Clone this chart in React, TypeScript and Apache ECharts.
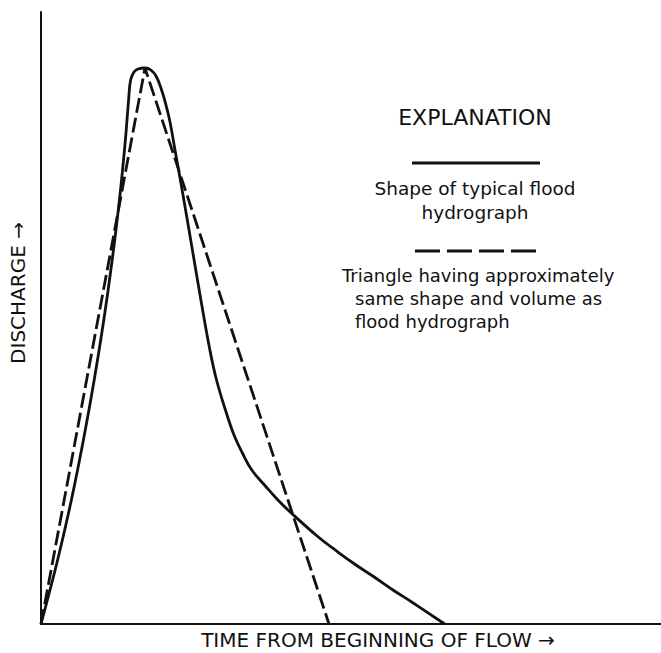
import React, { useEffect, useRef } from "react";
import * as echarts from "echarts";

// Time from beginning of flow (relative units) and discharge (relative units)
const hydrographTime = [
  0, 2.68, 4.9, 6.84, 8.58, 10.13, 11.48, 12.65, 13.61, 14.13, 14.45, 15.0,
  15.65, 16.77, 17.74, 18.55, 19.35, 20.16, 20.81, 21.61, 22.85, 24.42, 25.79,
  27.24, 28.31, 29.9, 31.13, 32.48, 34.0, 36.32, 38.21, 40.19, 44.53, 47.89,
  50.81, 53.74, 56.77, 59.79, 65.11,
];
const hydrographDischarge = [
  0, 10.46, 20.26, 30.07, 39.87, 49.67, 59.48, 69.28, 79.08, 85.62, 88.89,
  90.2, 90.69, 90.85, 90.52, 89.54, 87.58, 84.8, 82.03, 77.45, 70.42, 61.11,
  52.94, 44.77, 39.87, 34.48, 30.88, 27.94, 25.16, 22.39, 20.26, 18.3, 14.38,
  11.76, 9.64, 7.68, 5.56, 3.59, 0,
];
const triangleTime = [0, 16.77, 46.45];
const triangleDischarge = [0, 90.85, 0];

const axisTitleX = "TIME FROM BEGINNING OF FLOW →";
const axisTitleY = "DISCHARGE →";
const legendTitle = "EXPLANATION";
const legendSolidLines = ["Shape of typical flood", "hydrograph"];
const legendDashedLines = [
  "Triangle having approximately",
  "same shape and volume as",
  "flood hydrograph",
];

const FONT = "'DejaVu Sans', 'Liberation Sans', sans-serif";

export default function App() {
  const ref = useRef<HTMLDivElement>(null);
  useEffect(() => {
    if (!ref.current) return;
    const chart = echarts.init(ref.current, null, { renderer: "svg" });
    const solid = hydrographTime.map((t, i) => [t, hydrographDischarge[i]]);
    const tri = triangleTime.map((t, i) => [t, triangleDischarge[i]]);
    const txt = (text: string, x: number, y: number, size: number, align = "center") => ({
      type: "text",
      x,
      y,
      style: {
        text,
        fill: "#111",
        font: `${size}px ${FONT}`,
        align,
        verticalAlign: "middle",
      },
    });
    chart.setOption({
      animation: false,
      backgroundColor: "#fff",
      grid: { left: 41, top: 12, width: 620, height: 612 },
      xAxis: {
        type: "value",
        min: 0,
        max: 100,
        axisLine: { show: true, onZero: false, lineStyle: { color: "#111", width: 2 } },
        axisTick: { show: false },
        axisLabel: { show: false },
        splitLine: { show: false },
      },
      yAxis: {
        type: "value",
        min: 0,
        max: 100,
        axisLine: { show: true, onZero: false, lineStyle: { color: "#111", width: 2 } },
        axisTick: { show: false },
        axisLabel: { show: false },
        splitLine: { show: false },
      },
      series: [
        {
          name: "Shape of typical flood hydrograph",
          type: "line",
          data: solid,
          smooth: 0.4,
          showSymbol: false,
          lineStyle: { color: "#111", width: 2.8 },
        },
        {
          name: "Triangle having approximately same shape and volume as flood hydrograph",
          type: "line",
          data: tri,
          showSymbol: false,
          lineStyle: { color: "#111", width: 2.8, type: [15, 5] },
        },
      ],
      graphic: [
        txt(legendTitle, 475, 117, 22),
        {
          type: "line",
          shape: { x1: 412, y1: 163, x2: 540, y2: 163 },
          style: { stroke: "#111", lineWidth: 2.8 },
        },
        txt(legendSolidLines[0], 475, 188, 18.5),
        txt(legendSolidLines[1], 475, 212, 18.5),
        {
          type: "line",
          shape: { x1: 415, y1: 251, x2: 538, y2: 251 },
          style: { stroke: "#111", lineWidth: 2.8, lineDash: [25, 7] },
        },
        txt(legendDashedLines[0], 342, 275, 18, "left"),
        txt(legendDashedLines[1], 355, 298, 18, "left"),
        txt(legendDashedLines[2], 355, 321, 18, "left"),
        txt(axisTitleX, 378, 640, 20),
        {
          type: "text",
          x: 18,
          y: 293,
          rotation: Math.PI / 2,
          style: {
            text: axisTitleY,
            fill: "#111",
            font: `20px ${FONT}`,
            align: "center",
            verticalAlign: "middle",
          },
        },
      ],
    });
    return () => chart.dispose();
  }, []);
  return (
    <div
      ref={ref}
      style={{ position: "fixed", left: 0, top: 0, width: 661, height: 653, background: "#fff" }}
    />
  );
}
